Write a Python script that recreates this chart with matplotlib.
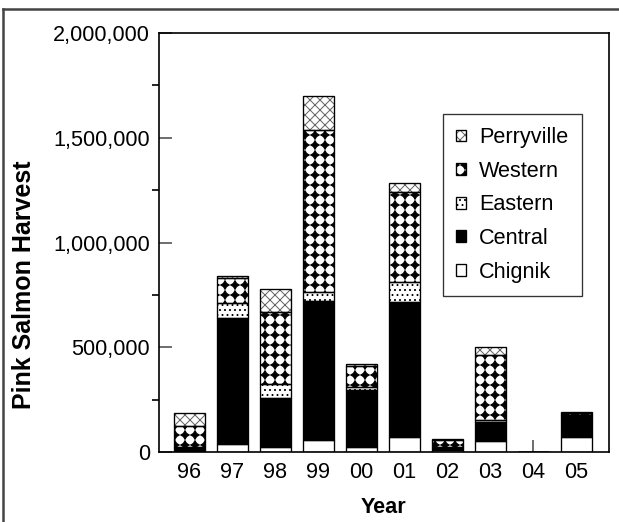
import numpy as np
import matplotlib
matplotlib.use("Agg")
import matplotlib.pyplot as plt
import matplotlib.hatch as mhatch
from matplotlib.path import Path
from matplotlib.patches import Patch
from matplotlib.lines import Line2D
from matplotlib.ticker import FuncFormatter, MultipleLocator

# ---------------- data ----------------
years = ['96', '97', '98', '99', '00', '01', '02', '03', '04', '05']
chignik = [3000, 40000, 25000, 57000, 25000, 73000, 8000, 52000, 0, 70000]
central = [14000, 600000, 234000, 665000, 272000, 644000, 12000, 92000, 0, 102000]
eastern = [8000, 70000, 65000, 40000, 12000, 93000, 5000, 8000, 0, 5000]
western = [100000, 122000, 342000, 775000, 103000, 429000, 30000, 313000, 0, 10000]
perryville = [62000, 10000, 110000, 160000, 10000, 43000, 5000, 34000, 0, 3000]


# ---------------- custom diamond hatch (aligned grid) ----------------
class Diamonds(mhatch.Shapes):
    size = 0.43
    filled = True

    def __init__(self, hatch, density):
        self.num_rows = hatch.count('*') * density
        a = 0.38
        self.shape_vertices = np.array([[0, 1], [a, a], [1, 0], [a, -a], [0, -1],
                                        [-a, -a], [-1, 0], [-a, a], [0, 1]], float)
        self.shape_codes = np.full(len(self.shape_vertices), Path.LINETO,
                                   dtype=Path.code_type)
        self.shape_codes[0] = Path.MOVETO
        self.shape_codes[-1] = Path.CLOSEPOLY
        super().__init__(hatch, density)
        n = self.num_rows
        self.num_shapes = (n + 1) ** 2 if n else 0
        self.num_vertices = self.num_shapes * len(self.shape_vertices)

    def set_vertices_and_codes(self, vertices, codes):
        n = self.num_rows
        off = 1.0 / n
        sv = self.shape_vertices * off * self.size
        vparts, cparts = [], []
        for r in range(n + 1):
            for c in range(n + 1):
                vparts.append(sv + [c * off + off / 2, r * off + off / 2])
                cparts.append(self.shape_codes)
        np.concatenate(vparts, out=vertices)
        np.concatenate(cparts, out=codes)


mhatch._hatch_types = [Diamonds if t is mhatch.Stars else t for t in mhatch._hatch_types]

plt.rcParams['font.family'] = ['Liberation Sans', 'DejaVu Sans']
plt.rcParams['hatch.linewidth'] = 0.6

DPI = 120
fig = plt.figure(figsize=(619 / DPI, 522 / DPI), dpi=DPI)
ax = fig.add_axes([159 / 619, 1 - 452 / 522, 450 / 619, 419 / 522])

x = np.arange(len(years))
w = 0.72

series = [
    ('Chignik', chignik, 'white', 'black', ''),
    ('Central', central, 'black', 'black', ''),
    ('Eastern', eastern, 'white', 'black', '....'),
    ('Western', western, 'white', 'black', '**'),
    ('Perryville', perryville, 'white', '#666666', 'xxxx'),
]

bottom = np.zeros(len(years))
handles = {}
for name, vals, fc, hc, hatch in series:
    vals = np.array(vals, float)
    ax.bar(x, vals, w, bottom=bottom, color=fc, edgecolor=hc, hatch=hatch,
           linewidth=0, zorder=2)
    ax.bar(x, vals, w, bottom=bottom, fill=False, edgecolor='black',
           linewidth=0.8, zorder=3)
    h1 = Patch(facecolor=fc, edgecolor=hc, hatch=hatch, linewidth=0)
    h2 = Patch(fill=False, edgecolor='black', linewidth=0.8)
    handles[name] = (h1, h2)
    bottom += vals

ax.set_xlim(-0.71, 9.76)
ax.set_ylim(0, 2000000)
ax.set_xticks(x)
ax.set_xticklabels(years)
ax.yaxis.set_major_locator(MultipleLocator(500000))
ax.yaxis.set_minor_locator(MultipleLocator(250000))
ax.yaxis.set_major_formatter(FuncFormatter(lambda v, p: f'{v:,.0f}'))
ax.tick_params(axis='both', direction='in', labelsize=13, color='#555555')
ax.tick_params(axis='y', which='major', length=8, width=1, pad=5.5)
ax.tick_params(axis='y', which='minor', length=4, width=1)
ax.tick_params(axis='x', length=7, width=1, pad=6)
for s in ax.spines.values():
    s.set_linewidth(1.0)
    s.set_color('black')

ax.set_ylabel('Pink Salmon Harvest', fontsize=15, fontweight='bold')
ax.yaxis.set_label_coords(-0.273, 0.399)
ax.set_xlabel('Year', fontsize=13, fontweight='bold', labelpad=8.5)

order = ['Perryville', 'Western', 'Eastern', 'Central', 'Chignik']
leg = ax.legend([handles[n] for n in order], order, loc='upper left',
                bbox_to_anchor=(0.631, 0.807), borderaxespad=0, frameon=True,
                fancybox=False, fontsize=13, handlelength=0.46, handleheight=0.46,
                handletextpad=0.6, labelspacing=0.58, borderpad=0.62)
leg.get_frame().set_edgecolor('black')
leg.get_frame().set_linewidth(0.8)

# outer frame lines (left and top)
fig.add_artist(Line2D([3 / 619, 3 / 619], [0, 1 - 9 / 522], transform=fig.transFigure,
                      color='#444444', linewidth=1.5))
fig.add_artist(Line2D([3 / 619, 1], [1 - 9 / 522, 1 - 9 / 522], transform=fig.transFigure,
                      color='#444444', linewidth=1.5))

fig.savefig('out.png', dpi=DPI)
